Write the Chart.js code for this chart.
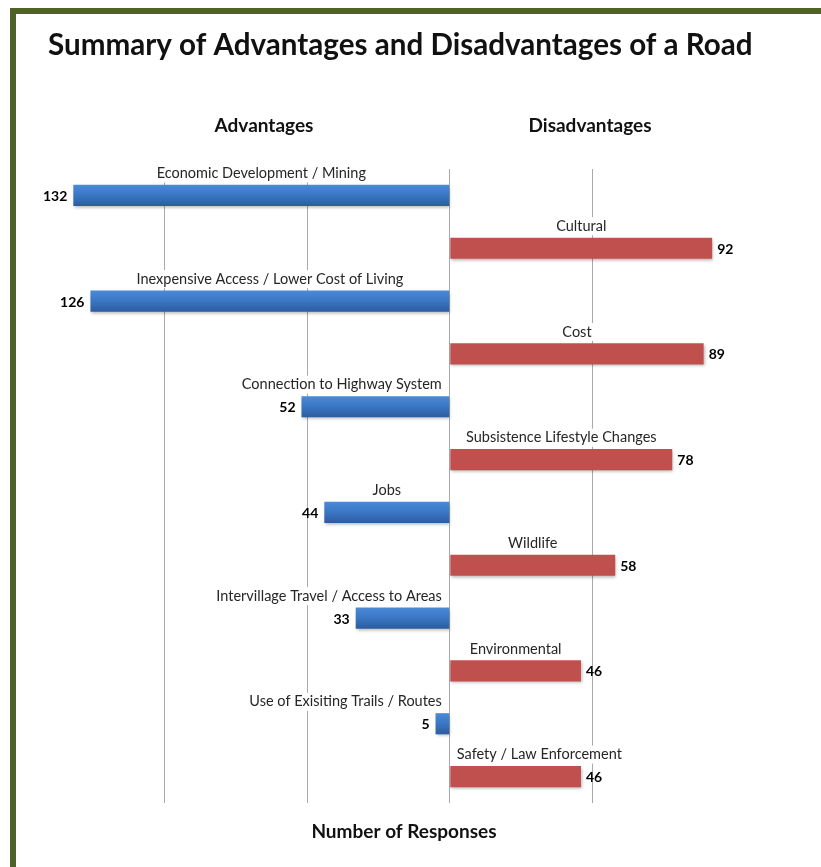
<!DOCTYPE html>
<html>
<head>
<meta charset="utf-8">
<title>Summary of Advantages and Disadvantages of a Road</title>
<script src="https://cdn.jsdelivr.net/npm/chart.js@4"></script>
<style>
  html, body { margin: 0; padding: 0; background: #fff; overflow: hidden; }
  .frame {
    position: absolute; left: 10px; top: 8px; width: 900px; height: 900px;
    border-left: 6px solid #4f6228; border-top: 6px solid #4f6228;
    pointer-events: none;
  }
  canvas { position: absolute; left: 0; top: 0; }
</style>
</head>
<body>
<canvas id="roadchart" width="821" height="867"></canvas>
<div class="frame"></div>
<script>
// 回答数（利点・欠点）
const advantages = [
  "Economic Development / Mining",
  "Inexpensive Access / Lower Cost of Living",
  "Connection to Highway System",
  "Jobs",
  "Intervillage Travel / Access to Areas",
  "Use of Exisiting Trails / Routes",
];
const advantageCounts = [132, 126, 52, 44, 33, 5];

const disadvantages = [
  "Cultural",
  "Cost",
  "Subsistence Lifestyle Changes",
  "Wildlife",
  "Environmental",
  "Safety / Law Enforcement",
];
const disadvantageCounts = [92, 89, 78, 58, 46, 46];

const gridValues = [-100, -50, 0, 50];

// 利点と欠点を交互に並べる
const rowLabels = [];
const advRow = [];
const disRow = [];
advantages.forEach((name, i) => {
  rowLabels.push(name);
  advRow.push(-advantageCounts[i]); // 左向きに描く
  disRow.push(null);
  rowLabels.push(disadvantages[i]);
  advRow.push(null);
  disRow.push(disadvantageCounts[i]);
});

const BAR_PCT = 0.8;
const CAT_PCT = 0.5;

// 青いバーのグラデーション
function blueFill(c) {
  const chart = c.chart;
  const y = chart.scales.y;
  if (!chart.chartArea || !y) return "#3a74c0";
  const mid = y.getPixelForValue(c.dataIndex);
  const half = (y.height / rowLabels.length) * BAR_PCT * CAT_PCT / 2;
  const g = chart.ctx.createLinearGradient(0, mid - half, 0, mid + half);
  g.addColorStop(0, "#4a8ad6");
  g.addColorStop(0.5, "#3a76c3");
  g.addColorStop(1, "#2b5c9e");
  return g;
}

// 影
const shadowPlugin = {
  id: "barShadow",
  beforeDatasetsDraw(chart) {
    const ctx = chart.ctx;
    ctx.save();
    ctx.shadowColor = "rgba(0,0,0,0.28)";
    ctx.shadowBlur = 3;
    ctx.shadowOffsetX = 1;
    ctx.shadowOffsetY = 2;
  },
  afterDatasetsDraw(chart) {
    chart.ctx.restore();
  },
};

// ラベルと見出し
const labelPlugin = {
  id: "rowLabels",
  afterDatasetsDraw(chart) {
    const ctx = chart.ctx;
    const zero = chart.scales.x.getPixelForValue(0);
    ctx.save();
    ctx.textBaseline = "middle";
    chart.data.datasets.forEach((ds, di) => {
      const meta = chart.getDatasetMeta(di);
      meta.data.forEach((el, i) => {
        const raw = ds.data[i];
        if (raw === null) return;
        const left = Math.min(el.x, el.base);
        const right = Math.max(el.x, el.base);
        const count = Math.abs(raw);

        // 数値
        ctx.font = "bold 14px Lato";
        ctx.fillStyle = "#000";
        if (di === 0) {
          ctx.textAlign = "right";
          ctx.fillText(String(count), left - 6, el.y + 1);
        } else {
          ctx.textAlign = "left";
          ctx.fillText(String(count), right + 5, el.y + 1);
        }

        // 項目名（白地で目盛線を隠す）
        const name = chart.data.labels[i];
        ctx.font = "14.5px Lato";
        const w = ctx.measureText(name).width;
        let cx = (left + right) / 2;
        if (di === 0) cx = Math.min(cx, zero - 8 - w / 2);
        else cx = Math.max(cx, zero + 7 + w / 2);
        const ty = el.y - 22;
        ctx.fillStyle = "#fff";
        ctx.fillRect(cx - w / 2 - 2, ty - 9, w + 4, 18);
        ctx.fillStyle = "#262626";
        ctx.textAlign = "center";
        ctx.fillText(name, cx, ty);
      });
    });

    // タイトル
    const title = "Summary of Advantages and Disadvantages of a Road";
    ctx.font = "bold 28px Lato";
    const tw = ctx.measureText(title).width;
    const size = 28 * 704 / tw;
    ctx.font = "bold " + size.toFixed(1) + "px Lato";
    ctx.fillStyle = "#111";
    ctx.textAlign = "left";
    ctx.fillText(title, 48, 45);

    // 列見出しと軸タイトル
    ctx.font = "bold 19px Lato";
    ctx.textAlign = "center";
    ctx.fillText("Advantages", 264, 126);
    ctx.fillText("Disadvantages", 590, 126);
    ctx.fillText("Number of Responses", 404, 832);
    ctx.restore();
  },
};

const config = {
  type: "bar",
  data: {
    labels: rowLabels,
    datasets: [
      {
        label: "Advantages",
        data: advRow,
        backgroundColor: blueFill,
        barPercentage: BAR_PCT,
        categoryPercentage: CAT_PCT,
      },
      {
        label: "Disadvantages",
        data: disRow,
        backgroundColor: "#c0504d",
        barPercentage: BAR_PCT,
        categoryPercentage: CAT_PCT,
      },
    ],
  },
  options: {
    indexAxis: "y",
    responsive: false,
    animation: false,
    devicePixelRatio: 1,
    layout: {
      padding: { left: 22, right: 86, top: 169, bottom: 64 },
    },
    scales: {
      x: {
        min: -150,
        max: 100,
        ticks: { stepSize: 50, display: false },
        grid: {
          drawTicks: false,
          color: (c) => (gridValues.includes(c.tick && c.tick.value) ? "#a9a9a9" : "rgba(0,0,0,0)"),
        },
        border: { display: false },
      },
      y: {
        stacked: true,
        display: false,
      },
    },
    plugins: {
      legend: { display: false },
      tooltip: { enabled: false },
    },
  },
  plugins: [shadowPlugin, labelPlugin],
};

const canvas = document.getElementById("roadchart");
if (canvas) {
  new Chart(canvas.getContext("2d"), config);
}
</script>
</body>
</html>
